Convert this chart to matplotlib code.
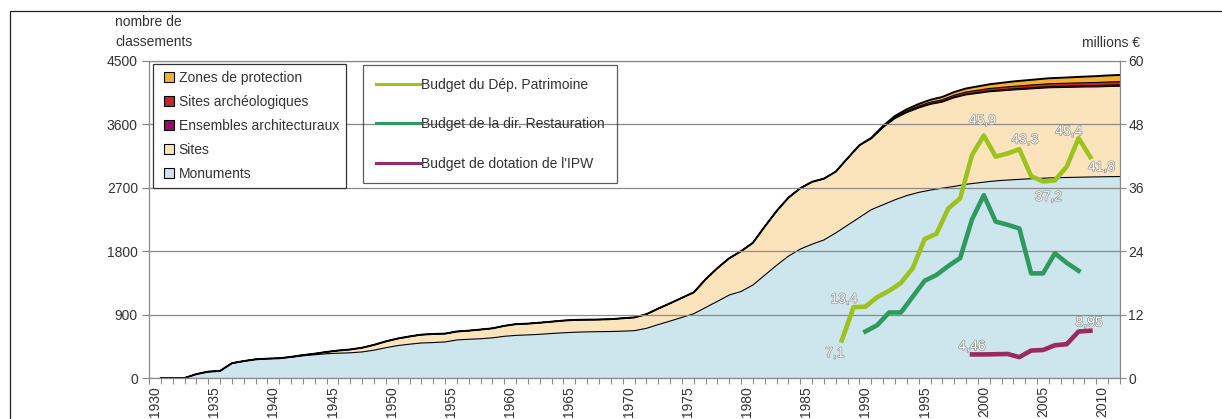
import matplotlib
matplotlib.use("Agg")
import matplotlib.pyplot as plt
import matplotlib.patheffects as pe
from matplotlib.patches import Rectangle
from matplotlib.lines import Line2D

plt.rcParams["font.family"] = ["Liberation Sans", "DejaVu Sans"]

# Nombre de classements par type (cumul), 1930-2011
ANNEES = list(range(1930, 2012))
MONUMENTS = [0, 0, 0, 55, 90, 100, 210, 240, 265, 275,
             280, 295, 315, 330, 345, 352, 358, 370, 395, 430,
             460, 480, 497, 503, 512, 540, 550, 557, 570, 592,
             605, 612, 620, 632, 642, 650, 655, 658, 660, 665,
             672, 705, 758, 808, 860, 912, 1000, 1088, 1178, 1228,
             1320, 1460, 1600, 1730, 1830, 1900, 1960, 2060, 2170, 2280,
             2390, 2460, 2530, 2590, 2635, 2668, 2695, 2720, 2750, 2770,
             2790, 2805, 2815, 2825, 2832, 2840, 2845, 2848, 2852, 2855,
             2858, 2860]
SITES = [0, 0, 0, 0, 0, 0, 0, 0, 0, 0,
         0, 5, 10, 15, 25, 38, 47, 60, 75, 90,
         100, 110, 118, 122, 118, 120, 122, 131, 135, 148,
         160, 160, 165, 168, 173, 175, 173, 172, 175, 183,
         188, 200, 227, 252, 278, 303, 400, 472, 522, 572,
         600, 690, 770, 830, 864, 885, 870, 870, 950, 1025,
         1007, 1097, 1154, 1178, 1198, 1217, 1222, 1258, 1269, 1271,
         1274, 1271, 1274, 1274, 1278, 1280, 1279, 1279, 1279, 1277,
         1280, 1281]
ENSEMBLES = [0] * 60 + [3, 5, 6, 8, 9, 10, 11, 12, 13, 14,
                        14, 15, 15, 16, 16, 17, 17, 18, 18, 19, 19, 20]
ARCHEO = [0] * 60 + [5, 8, 12, 15, 18, 20, 22, 25, 28, 30,
                     32, 34, 36, 38, 39, 40, 41, 42, 43, 44, 45, 46]
ZONES = [0] * 60 + [5, 10, 18, 24, 30, 35, 40, 45, 50, 55,
                    60, 65, 70, 72, 75, 78, 80, 83, 86, 90, 93, 95]

# Budgets (millions EUR)
ANNEES_DEP = list(range(1988, 2010))
BUDGET_DEP = [7.1, 13.4, 13.5, 15.3, 16.5, 18.0, 20.8, 26.3, 27.3, 32.1, 34.0,
              42.2, 45.9, 41.9, 42.5, 43.3, 38.2, 37.2, 37.4, 40.0, 45.4, 41.8]
ANNEES_REST = list(range(1990, 2009))
BUDGET_REST = [8.8, 10.0, 12.4, 12.4, 15.4, 18.4, 19.5, 21.2, 22.7, 30.0,
               34.6, 29.6, 29.0, 28.3, 19.8, 19.8, 23.6, 21.8, 20.3]
ANNEES_IPW = list(range(1999, 2010))
BUDGET_IPW = [4.46, 4.46, 4.5, 4.55, 3.95, 5.2, 5.3, 6.2, 6.4, 8.8, 8.95]

# valeurs etiquetees : (annee, decalage en points)
ETIQ_DEP = {1988: (-5, -9), 1989: (-7, 6), 2000: (-1, 11), 2003: (4, 7),
            2005: (4, -11), 2008: (-7, 5), 2009: (8, -7)}
ETIQ_IPW = {1999: (0, 6), 2009: (-1, 6)}

COUL_AIRES = ["#cde5ec", "#fbe4bb", "#9a0a6e", "#c1272d", "#f6b030"]
NOMS_AIRES = ["Monuments", "Sites", "Ensembles architecturaux",
              "Sites archéologiques", "Zones de protection"]
VERT_CLAIR = "#9cc31d"
VERT_FONCE = "#2f9a60"
POURPRE = "#9b2b5f"
GRIS = "#8a8a8a"
TEXTE = "#333333"

W, H = 1222, 419
fig = plt.figure(figsize=(W / 100, H / 100), dpi=100)
pos = [149 / W, 1 - 378 / H, (1120 - 149) / W, (378 - 61) / H]

# cadre exterieur
fig.patches.append(Rectangle((10 / W, -0.2), 1.2, 1.2 - 11 / H,
                             transform=fig.transFigure, fill=False,
                             edgecolor="#222222", lw=0.9))

# --- aires empilees (axe gauche) ---
ax = fig.add_axes(pos)
series = [MONUMENTS, SITES, ENSEMBLES, ARCHEO, ZONES]
ax.stackplot(ANNEES, *series, colors=COUL_AIRES, linewidth=0, zorder=1)
cumul = [0] * len(ANNEES)
for i, s in enumerate(series):
    cumul = [c + v for c, v in zip(cumul, s)]
    ax.plot(ANNEES, cumul, color="black", lw=1.4 if i == 4 else 0.8,
            zorder=2, solid_joinstyle="round")
ax.set_xlim(1929, 2011)
ax.set_ylim(0, 4500)
ax.set_yticks(range(0, 4501, 900))
ax.set_xticks(range(1929, 2012))
ax.set_xticklabels([])
ax.tick_params(axis="x", length=4, color=GRIS, width=0.8)
ax.tick_params(axis="y", length=5, color=GRIS, width=0.8, pad=3,
               labelsize=10, labelcolor=TEXTE)
ax.set_axisbelow(False)
ax.grid(axis="y", color=GRIS, lw=0.9, zorder=3)
for s in ["left", "right", "bottom", "top"]:
    ax.spines[s].set_color(GRIS)
    ax.spines[s].set_linewidth(0.9)

# --- budgets (axe droit) ---
ax2 = fig.add_axes(pos, facecolor="none")
ax2.plot(ANNEES_DEP, BUDGET_DEP, color=VERT_CLAIR, lw=3.3)
ax2.plot(ANNEES_REST, BUDGET_REST, color=VERT_FONCE, lw=3.3)
ax2.plot(ANNEES_IPW, BUDGET_IPW, color=POURPRE, lw=3.3)
ax2.set_xlim(1929.5, 2011.5)
ax2.set_ylim(0, 60)
ax2.yaxis.tick_right()
ax2.set_yticks(range(0, 61, 12))
ax2.tick_params(axis="y", length=4, color=GRIS, width=0.8, pad=2,
                labelsize=10, labelcolor=TEXTE)
ax2.set_xticks(range(1930, 2011, 5))
ax2.tick_params(axis="x", length=0, pad=6, labelsize=10, labelcolor=TEXTE,
                labelrotation=90)
for s in ax2.spines.values():
    s.set_visible(False)

contour = [pe.withStroke(linewidth=0.9, foreground="#8c8c8c")]


def etiqueter(annees, valeurs, etiq):
    for a, v in zip(annees, valeurs):
        if a in etiq:
            ax2.annotate(f"{v:g}".replace(".", ","), (a, v),
                         xytext=etiq[a], textcoords="offset points",
                         ha="center", va="center", fontsize=10,
                         color="white", path_effects=contour)


etiqueter(ANNEES_DEP, BUDGET_DEP, ETIQ_DEP)
etiqueter(ANNEES_IPW, BUDGET_IPW, ETIQ_IPW)

# --- legendes ---
carres = [Line2D([], [], ls="none", marker="s", markersize=6.5,
                 markerfacecolor=c, markeredgecolor="black",
                 markeredgewidth=0.8) for c in COUL_AIRES][::-1]
leg1 = fig.legend(carres, NOMS_AIRES[::-1], loc="upper left",
                  bbox_to_anchor=(153 / W, 1 - 64 / H), borderaxespad=0,
                  fontsize=10, labelspacing=0.72, handlelength=1.3,
                  handletextpad=0.05, borderpad=0.5,
                  fancybox=False, edgecolor="#333333", framealpha=1,
                  labelcolor=TEXTE)
leg1.get_frame().set_linewidth(0.9)

lignes = [Line2D([], [], color=c, lw=2.2)
          for c in (VERT_CLAIR, VERT_FONCE, POURPRE)]
leg2 = fig.legend(lignes, ["Budget du Dép. Patrimoine",
                           "Budget de la dir. Restauration",
                           "Budget de dotation de l'IPW"],
                  loc="upper left", bbox_to_anchor=(363 / W, 1 - 65 / H),
                  borderaxespad=0, fontsize=10, labelspacing=1.85,
                  handlelength=3.2, handletextpad=0.1, borderpad=0.9,
                  fancybox=False, edgecolor="#333333", facecolor="none",
                  labelcolor=TEXTE)
leg2.get_frame().set_linewidth(0.9)

fig.text(115 / W, 1 - 15 / H, "nombre de\nclassements", ha="left", va="top",
         fontsize=10, color=TEXTE, linespacing=1.5)
fig.text(1140 / W, 1 - 43 / H, "millions €", ha="right", va="center",
         fontsize=10, color=TEXTE)

fig.savefig("out.png", dpi=100)
